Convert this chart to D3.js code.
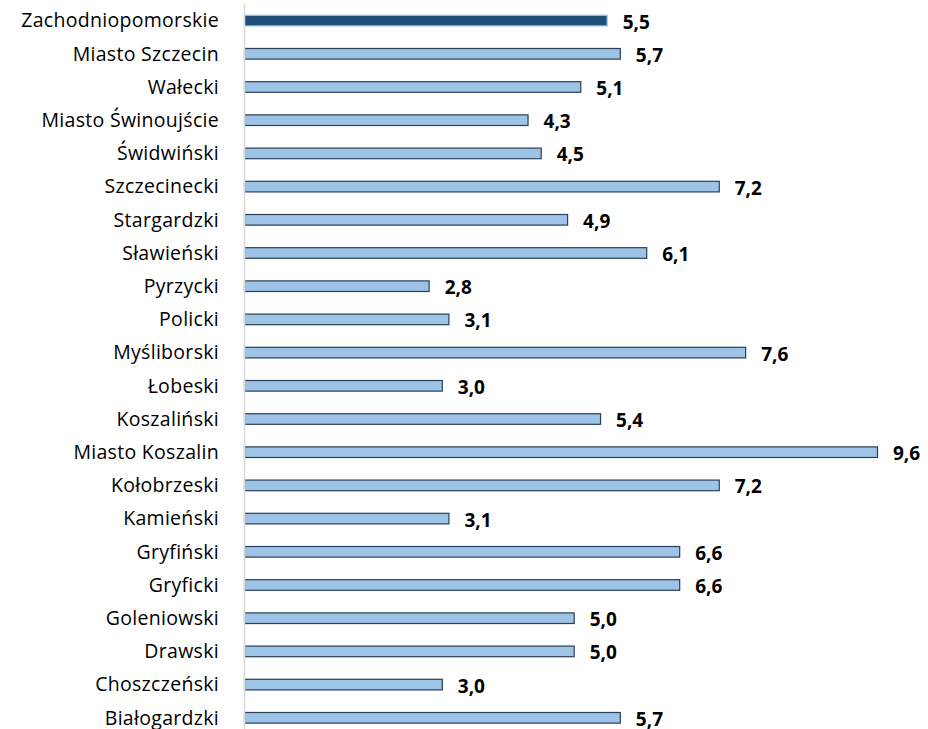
<!DOCTYPE html>
<html>
<head>
<meta charset="utf-8">
<script src="https://cdn.jsdelivr.net/npm/d3@7"></script>
<style>
  body { margin: 0; background: #fff; }
  text { font-family: "Open Sans", Lato, sans-serif; }
</style>
</head>
<body>
<div id="chart"></div>
<script>
// powiaty, od góry do dołu
var categories = ["Zachodniopomorskie", "Miasto Szczecin", "Wałecki", "Miasto Świnoujście", "Świdwiński",
    "Szczecinecki", "Stargardzki", "Sławieński", "Pyrzycki", "Policki", "Myśliborski", "Łobeski",
    "Koszaliński", "Miasto Koszalin", "Kołobrzeski", "Kamieński", "Gryfiński", "Gryficki",
    "Goleniowski", "Drawski", "Choszczeński", "Białogardzki"];
var values = [5.5, 5.7, 5.1, 4.3, 4.5, 7.2, 4.9, 6.1, 2.8, 3.1, 7.6, 3.0, 5.4, 9.6, 7.2, 3.1, 6.6, 6.6, 5.0, 5.0, 3.0, 5.7];

var width = 928, height = 729;
var marginLeft = 244, marginTop = 4;
var rowStep = 33.2;

var svg = d3.select("#chart").append("svg")
    .attr("width", width)
    .attr("height", height);

var x = d3.scaleLinear()
    .domain([0, 9.6])
    .range([marginLeft, 877]);

var y = d3.scaleBand()
    .domain(categories)
    .range([marginTop, marginTop + rowStep * categories.length])
    .paddingInner(0.68)
    .paddingOuter(0.34);

// bars
svg.selectAll("rect.bar")
    .data(values)
    .enter().append("rect")
    .attr("class", "bar")
    .attr("x", x(0) + 0.5)
    .attr("y", function(d, i) { return y(categories[i]); })
    .attr("width", function(d) { return x(d) - x(0); })
    .attr("height", y.bandwidth())
    .style("fill", function(d, i) { return i === 0 ? "#1f4e79" : "#9dc3e6"; })
    .style("stroke", function(d, i) { return i === 0 ? "#9dc3e6" : "#2b3f58"; })
    .style("stroke-width", 1.2);

// value labels
svg.selectAll("text.value")
    .data(values)
    .enter().append("text")
    .attr("class", "value")
    .attr("x", function(d) { return x(d) + 16; })
    .attr("y", function(d, i) { return y(categories[i]) + y.bandwidth() / 2 + 8; })
    .style("font-size", "19px")
    .style("font-weight", "bold")
    .style("fill", "#000")
    .text(function(d) { return d.toFixed(1).replace(".", ","); });

// category axis
var axis = svg.append("g")
    .attr("transform", "translate(" + marginLeft + ",0)")
    .call(d3.axisLeft(y).tickSize(0).tickPadding(25));
axis.select(".domain")
    .attr("d", "M0.5,4V" + height)
    .style("stroke", "#d9d9d9")
    .style("stroke-width", 1.5);
axis.selectAll("text")
    .style("font-size", "19.5px")
    .style("letter-spacing", "0.3px")
    .style("fill", "#000")
    .attr("dy", "0.35em");
</script>
</body>
</html>
